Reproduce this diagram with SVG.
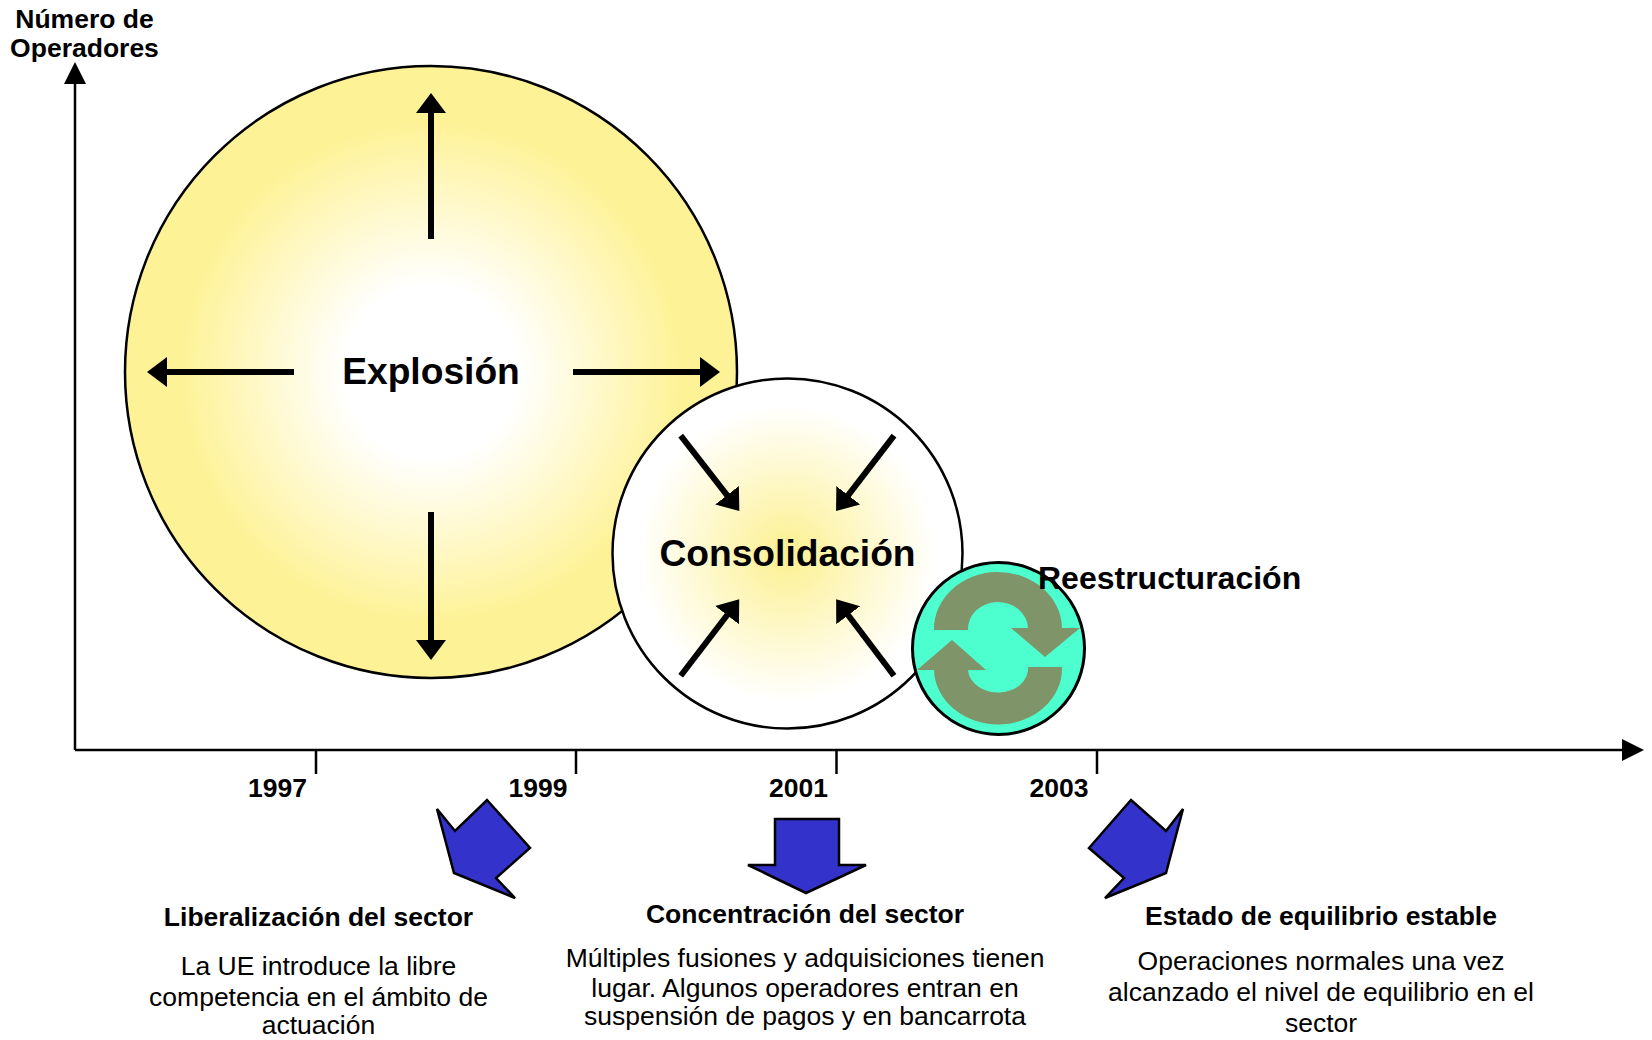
<svg xmlns="http://www.w3.org/2000/svg" width="1652" height="1040" viewBox="0 0 1652 1040">
<style>
text{font-family:"Liberation Sans",Arial,sans-serif;fill:#000;text-anchor:middle}
.b{font-weight:bold}
.t{font-size:26.500px}
.y{font-size:26.500px;font-weight:bold}
.h{font-size:37.200px;font-weight:bold}
.a{stroke:#000;stroke-width:6;fill:none;marker-end:url(#h)}
.ax{stroke:#000;stroke-width:2.500;fill:none}
.bl{fill:#3333cc;stroke:#000;stroke-width:2.500;stroke-linejoin:miter}
</style>
<defs>
<radialGradient id="g1"><stop offset="0.28" stop-color="#fff"/><stop offset="0.82" stop-color="#fef296"/></radialGradient>
<radialGradient id="g2"><stop offset="0" stop-color="#fcf08f"/><stop offset="0.85" stop-color="#fff"/></radialGradient>
<marker id="h" markerUnits="userSpaceOnUse" markerWidth="34" markerHeight="34" refX="5" refY="17" orient="auto"><path d="M0 2L20 17L0 32Z" fill="#000"/></marker>
<marker id="ah" markerUnits="userSpaceOnUse" markerWidth="24" markerHeight="24" refX="2" refY="12" orient="auto"><path d="M0 1L22 12L0 23Z" fill="#000"/></marker>
</defs>
<g id="explosion"><circle cx="431" cy="372" r="306" fill="url(#g1)" stroke="#000" stroke-width="2.500"/><text class="h" x="431" y="384">Explosión</text></g>
<g id="consolidacion"><circle cx="787.500" cy="553.500" r="175" fill="url(#g2)" stroke="#000" stroke-width="2.500"/><text class="h" x="787.500" y="566">Consolidación</text></g>
<g id="reestructuracion"><circle cx="998.500" cy="648.500" r="86" fill="#4dffcf" stroke="#000" stroke-width="3"/>
<path fill="#7f9469" d="M934 630A64 57 0 0 1 1062 628H1080L1045 657L1011 628H1028A30 27 0 0 0 968 630Z"/>
<path fill="#7f9469" d="M934 670H917L952 640L986 670H968A30 24 0 0 0 1028 667H1062A64 56 0 0 1 934 670Z"/>
<text class="h" style="font-size:32px;text-anchor:start" x="1038" y="588.500">Reestructuración</text></g>
<g id="axis-labels"><text class="t b" x="84.500" y="28">Número de</text><text class="t b" x="84.500" y="57">Operadores</text>
<text class="y" x="277.500" y="797">1997</text><text class="y" x="538" y="797">1999</text><text class="y" x="798.500" y="797">2001</text><text class="y" x="1059" y="797">2003</text></g>
<g id="connectors">
<path class="ax" d="M75 750V82" marker-end="url(#ah)"/><path class="ax" d="M75 750H1624" marker-end="url(#ah)"/>
<path class="ax" d="M316 750V774M576 750V774M836.500 750V774M1097 750V774"/>
<path class="a" d="M431 239V108"/><path class="a" d="M431 512V645"/><path class="a" d="M294 372H162"/><path class="a" d="M573 372H705"/>
<path class="a" d="M680.700 435.700L730.100 499.200"/><path class="a" d="M894 435.700L845.200 499.200"/><path class="a" d="M680.700 675.700L730.100 611.200"/><path class="a" d="M894 675.700L845.200 611.200"/>
</g>
<g id="note1"><path class="bl" d="M487 800L530 848L496 878L515 898L454 873L437 809L455 831Z"/>
<text class="t b" x="318.500" y="926">Liberalización del sector</text><text class="t" x="318.500" y="975">La UE introduce la libre</text><text class="t" x="318.500" y="1006">competencia en el ámbito de</text><text class="t" x="318.500" y="1034">actuación</text></g>
<g id="note2"><path class="bl" d="M775 819H839V865H866L806 893L748 865H775Z"/>
<text class="t b" x="805" y="923">Concentración del sector</text><text class="t" x="805" y="967">Múltiples fusiones y adquisiciones tienen</text><text class="t" x="805" y="997">lugar. Algunos operadores entran en</text><text class="t" x="805" y="1025">suspensión de pagos y en bancarrota</text></g>
<g id="note3"><path class="bl" d="M1131 800L1166 831L1183 809L1166 873L1105 898L1124 878L1089 848Z"/>
<text class="t b" x="1321" y="925">Estado de equilibrio estable</text><text class="t" x="1321" y="970">Operaciones normales una vez</text><text class="t" x="1321" y="1001">alcanzado el nivel de equilibrio en el</text><text class="t" x="1321" y="1032">sector</text></g>
</svg>
